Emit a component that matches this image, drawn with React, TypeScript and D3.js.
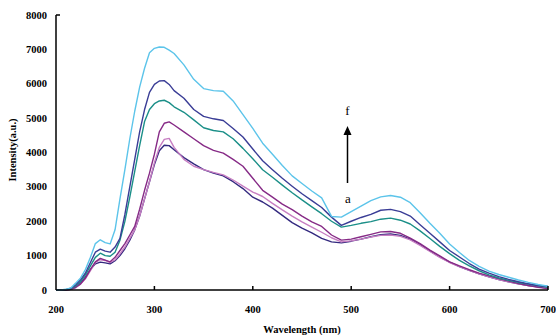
import React from "react";
import * as d3 from "d3";

const wavelengths = [200,205,210,215,220,225,230,235,240,245,250,255,260,265,270,275,280,285,290,295,300,305,310,315,320,330,340,350,360,370,380,390,400,410,420,430,440,450,460,470,480,490,500,510,520,530,540,550,560,570,580,590,600,610,620,630,640,650,660,670,680,690,700];

const seriesF = [0,0,20,60,200,350,600,950,1350,1460,1380,1340,1750,2650,3500,4400,5200,5900,6450,6900,7030,7070,7060,6980,6880,6550,6130,5860,5800,5780,5500,5100,4700,4270,3950,3620,3320,3100,2880,2680,2140,2120,2280,2440,2600,2710,2750,2700,2540,2250,1940,1650,1340,1090,860,690,550,450,370,290,220,160,110];
const seriesE = [0,0,10,50,150,300,500,800,1100,1190,1130,1100,1250,1500,2200,3000,3800,4600,5250,5750,5980,6080,6090,5980,5800,5580,5250,5050,4980,4930,4700,4450,4100,3760,3500,3250,3020,2800,2600,2400,2120,1880,2000,2110,2200,2320,2345,2280,2150,1900,1650,1400,1150,960,770,610,490,390,310,240,180,130,100];
const seriesD = [0,0,10,40,120,250,450,700,950,1070,1000,980,1100,1450,2000,2700,3450,4200,4900,5250,5420,5500,5520,5450,5330,5170,4950,4720,4640,4600,4400,4120,3820,3500,3280,3050,2830,2620,2420,2220,2000,1830,1880,1940,1990,2060,2090,2030,1920,1720,1500,1270,1060,860,700,560,440,350,280,220,170,120,80];
const seriesC = [0,0,0,20,80,180,350,600,820,920,870,820,950,1150,1350,1600,1850,2350,2900,3400,3950,4600,4850,4890,4800,4600,4400,4200,4060,3980,3800,3600,3250,2900,2700,2500,2340,2150,1980,1850,1600,1450,1480,1550,1620,1690,1700,1650,1510,1350,1160,990,820,700,590,490,410,330,260,190,130,80,40];
const seriesB = [0,0,0,20,70,170,330,560,800,880,860,800,880,1050,1250,1500,1750,2150,2650,3150,3700,4150,4380,4410,4150,3800,3600,3500,3420,3350,3200,3020,2850,2720,2520,2330,2150,1980,1830,1680,1520,1400,1430,1480,1540,1590,1600,1560,1460,1300,1120,950,800,680,570,470,380,300,240,180,130,90,50];
const seriesA = [0,0,0,20,80,200,380,600,760,810,790,760,850,1000,1200,1450,1750,2150,2650,3150,3650,4050,4210,4200,4080,3850,3670,3500,3400,3320,3150,2950,2700,2560,2380,2170,1960,1800,1660,1500,1400,1370,1420,1480,1550,1610,1630,1590,1480,1320,1140,960,810,680,570,470,380,300,240,180,130,90,60];

const seriesNames = ["a", "b", "c", "d", "e", "f"];
const seriesList = [seriesA, seriesB, seriesC, seriesD, seriesE, seriesF];
const seriesColors = ["#33297f", "#c77ec2", "#862a86", "#1b8f88", "#3a3d96", "#5cc4ea"];

const xTicks = [200, 300, 400, 500, 600, 700];
const yTicks = [0, 1000, 2000, 3000, 4000, 5000, 6000, 7000, 8000];

export default function App() {
  const W = 556, H = 335;
  const x = d3.scaleLinear().domain([200, 700]).range([56, 548]);
  const y = d3.scaleLinear().domain([0, 8000]).range([290, 15]);
  const line = d3.line<number>()
    .x((_, i) => x(wavelengths[i]))
    .y((d) => y(d))
    .curve(d3.curveLinear);
  const serif = "'Liberation Serif', 'Times New Roman', serif";
  return (
    <svg width={W} height={H} style={{ position: "absolute", left: 0, top: 0, background: "#fff" }}>
      <rect x={0} y={0} width={W} height={H} fill="#fff" />
      {seriesList.map((s, k) => (
        <path key={seriesNames[k]} d={line(s) || ""} fill="none" stroke={seriesColors[k]} strokeWidth={1.4} strokeLinejoin="round" />
      ))}
      {/* axes */}
      <line x1={x(200)} x2={x(700)} y1={y(0)} y2={y(0)} stroke="#000" strokeWidth={1.5} />
      <line x1={x(200)} x2={x(200)} y1={y(0)} y2={y(8000)} stroke="#000" strokeWidth={1.5} />
      <line x1={x(200)} x2={x(200) + 4} y1={y(8000)} y2={y(8000)} stroke="#000" strokeWidth={1.5} />
      {xTicks.slice(1).map((t) => (
        <line key={t} x1={x(t)} x2={x(t)} y1={y(0)} y2={y(0) - 4} stroke="#000" strokeWidth={1.5} />
      ))}
      {xTicks.map((t) => (
        <text key={t} x={x(t)} y={313} textAnchor="middle" fontFamily={serif} fontWeight="bold" fontSize={10.5} fill="#000">{t}</text>
      ))}
      {yTicks.map((t) => (
        <text key={t} x={47} y={y(t) + 3.6} textAnchor="end" fontFamily={serif} fontWeight="bold" fontSize={10.5} fill="#000">{t}</text>
      ))}
      <text x={302} y={333} textAnchor="middle" fontFamily={serif} fontWeight="bold" fontSize={10.5} fill="#000">Wavelength (nm)</text>
      <text transform="translate(16,150) rotate(-90)" textAnchor="middle" fontFamily={serif} fontWeight="bold" fontSize={10.5} fill="#000">Intensity(a.u.)</text>
      {/* annotation arrow */}
      <line x1={347.5} x2={347.5} y1={183} y2={133} stroke="#000" strokeWidth={1.5} />
      <path d="M347.5,126 L343.5,135 L351.5,135 Z" fill="#000" />
      <text x={347.5} y={115} textAnchor="middle" fontFamily={serif} fontSize={13} fill="#000">f</text>
      <text x={348} y={203} textAnchor="middle" fontFamily={serif} fontSize={13} fill="#000">a</text>
    </svg>
  );
}
